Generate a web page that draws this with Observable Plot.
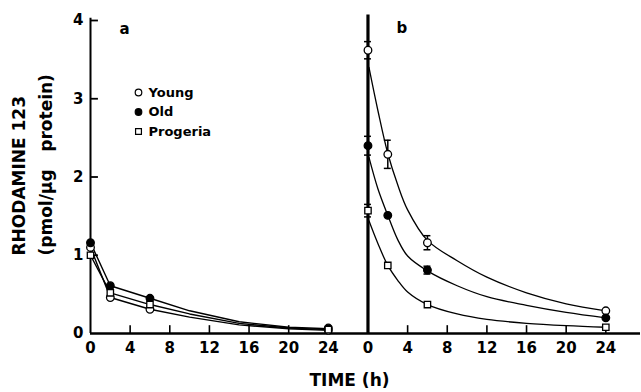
<!DOCTYPE html>
<html><head><meta charset="utf-8">
<script src="https://cdn.jsdelivr.net/npm/d3@7"></script>
<script src="https://cdn.jsdelivr.net/npm/@observablehq/plot@0.6"></script>
<style>body{margin:0;background:#fff}</style>
</head><body><div id="chart"></div>
<script>
// ---- data ----
const series = ["Young", "Old", "Progeria"];
const times = [0, 2, 6, 24];
// panel a: measured points
const aYoung = [1.10, 0.46, 0.31, 0.04];
const aOld = [1.16, 0.61, 0.45, 0.07];
const aProgeria = [1.00, 0.52, 0.37, 0.05];
// panel a: drawn lines
const aLineTimes = [0, 2, 6, 10, 15, 20, 24];
const aYoungLine = [1.10, 0.46, 0.31, 0.21, 0.11, 0.06, 0.04];
const aOldLine = [1.16, 0.61, 0.45, 0.29, 0.15, 0.08, 0.06];
const aProgeriaLine = [1.00, 0.52, 0.37, 0.25, 0.13, 0.07, 0.05];
// panel b: measured points and error bars
const bYoung = [3.62, 2.29, 1.16, 0.29];
const bYoungErr = [0.11, 0.18, 0.09, 0];
const bOld = [2.40, 1.51, 0.81, 0.20];
const bOldErr = [0.12, 0, 0.05, 0];
const bProgeria = [1.57, 0.87, 0.37, 0.08];
const bProgeriaErr = [0.08, 0, 0, 0];
// panel b: fitted curves
const bCurveTimes = [0.1, 1, 2, 3, 4, 6, 9, 12, 16, 20, 24];
const bYoungCurve = [3.40, 2.85, 2.30, 1.90, 1.58, 1.19, 0.93, 0.72, 0.52, 0.38, 0.29];
const bOldCurve = [2.25, 1.85, 1.51, 1.20, 0.99, 0.80, 0.61, 0.47, 0.36, 0.27, 0.20];
const bProgeriaCurve = [1.44, 1.15, 0.87, 0.68, 0.53, 0.37, 0.25, 0.18, 0.13, 0.10, 0.08];
// axes
const yTicks = [0, 1, 2, 3, 4];
const xTickLabels = [0, 4, 8, 12, 16, 20, 24];
const injectionTime = 0;
const panelBOffset = 28; // panel b drawn to the right of panel a on a shared time axis
const xMax = 55.5;

// ---- tables ----
function pointRows(panel, name, ts, vs, es) {
  const off = panel === "b" ? panelBOffset : 0;
  return ts.map((t, i) => ({panel, series: name, x: t + off, v: vs[i], e: es ? es[i] : 0}));
}
const aPts = [
  ...pointRows("a", "Young", times, aYoung),
  ...pointRows("a", "Old", times, aOld),
  ...pointRows("a", "Progeria", times, aProgeria)
];
const bPts = [
  ...pointRows("b", "Young", times, bYoung, bYoungErr),
  ...pointRows("b", "Old", times, bOld, bOldErr),
  ...pointRows("b", "Progeria", times, bProgeria, bProgeriaErr)
];
const allPts = [...aPts, ...bPts];
const errPts = bPts.filter(d => d.e > 0);
const aLines = [
  ...pointRows("a", "Young", aLineTimes, aYoungLine),
  ...pointRows("a", "Old", aLineTimes, aOldLine),
  ...pointRows("a", "Progeria", aLineTimes, aProgeriaLine)
];
const bCurves = [
  ...pointRows("b", "Young", bCurveTimes, bYoungCurve),
  ...pointRows("b", "Old", bCurveTimes, bOldCurve),
  ...pointRows("b", "Progeria", bCurveTimes, bProgeriaCurve)
];
const xTickPos = [...xTickLabels, ...xTickLabels.map(t => t + panelBOffset)];
const xInnerTicks = xTickPos.filter(d => d !== 0 && d !== panelBOffset && d !== 24);
const capHalf = 0.35;

const symStyle = {
  Young: {symbol: "circle", fill: "white", r: 3.8},
  Old: {symbol: "circle", fill: "black", r: 3.8},
  Progeria: {symbol: "square", fill: "white", r: 3.6}
};

const marks = [
  Plot.ruleY([0], {strokeWidth: 2.5}),
  Plot.ruleX([0], {y1: 0, y2: 4.03, strokeWidth: 2}),
  Plot.ruleX([injectionTime + panelBOffset], {y1: 0, y2: 4.07, strokeWidth: 3.2}),
  Plot.ruleY(yTicks.filter(d => d > 0), {x1: 0, x2: 0.8, strokeWidth: 1.8}),
  Plot.ruleX(xInnerTicks, {y1: 0, y2: 0.1, strokeWidth: 1.6}),
  Plot.axisY({ticks: yTicks, tickSize: 0, tickPadding: 7, label: null, tickFormat: d => String(d)}),
  Plot.axisX({ticks: xTickPos, tickSize: 0, tickPadding: 9, label: null,
    tickFormat: d => String(d >= panelBOffset ? d - panelBOffset : d)}),
  Plot.line(aLines, {x: "x", y: "v", z: "series", stroke: "black", strokeWidth: 1.4}),
  Plot.line(bCurves, {x: "x", y: "v", z: "series", stroke: "black", strokeWidth: 1.3, curve: "catmull-rom"}),
  Plot.ruleX(errPts, {x: "x", y1: d => d.v - d.e, y2: d => d.v + d.e, strokeWidth: 1.5}),
  Plot.ruleY(errPts, {y: d => d.v + d.e, x1: d => d.x - capHalf, x2: d => d.x + capHalf, strokeWidth: 1.5}),
  Plot.ruleY(errPts, {y: d => d.v - d.e, x1: d => d.x - capHalf, x2: d => d.x + capHalf, strokeWidth: 1.5}),
  ...series.map(s => Plot.dot(allPts.filter(d => d.series === s), {
    x: "x", y: "v", symbol: symStyle[s].symbol, fill: symStyle[s].fill, r: symStyle[s].r,
    stroke: "black", strokeWidth: 1.3
  })),
  // legend
  ...series.map((s, i) => Plot.dot([s], {frameAnchor: "top-left", dx: 48, dy: 72 + i * 19.5,
    symbol: symStyle[s].symbol, fill: symStyle[s].fill, r: 3.3, stroke: "black", strokeWidth: 1.2})),
  ...series.map((s, i) => Plot.text([s], {frameAnchor: "top-left", dx: 58, dy: 72 + i * 19.5,
    lineAnchor: "middle", text: d => d, textAnchor: "start", fontSize: 13, fontWeight: "bold"})),
  // panel letters
  Plot.text(["a"], {frameAnchor: "top-left", dx: 29, dy: 9, lineAnchor: "middle", text: d => d, fontSize: 15, fontWeight: "bold"}),
  Plot.text(["b"], {frameAnchor: "top-left", dx: 306, dy: 8, lineAnchor: "middle", text: d => d, fontSize: 15, fontWeight: "bold"}),
  // axis titles
  Plot.text(["RHODAMINE 123"], {frameAnchor: "bottom-left", dx: -71, dy: -78, rotate: -90,
    lineAnchor: "middle", textAnchor: "start", text: d => d, fontSize: 17, fontWeight: "bold"}),
  Plot.text(["(pmol/\u00b5g\u00a0\u00a0\u00a0protein)"], {frameAnchor: "bottom-left", dx: -44, dy: -78, rotate: -90,
    lineAnchor: "middle", textAnchor: "start", text: d => d, fontSize: 17, fontWeight: "bold"}),
  Plot.text(["TIME (h)"], {frameAnchor: "bottom", dx: -16, dy: 47, lineAnchor: "middle", text: d => d, fontSize: 17,
    fontWeight: "bold", letterSpacing: "1px"})
];

const chart = Plot.plot({
  width: 641, height: 392,
  marginLeft: 90, marginRight: 1, marginTop: 20, marginBottom: 59,
  style: {fontFamily: "DejaVu Sans", fontWeight: "bold", fontSize: "15px", color: "black", background: "white"},
  x: {domain: [0, xMax]},
  y: {domain: [0, 4]},
  marks
});
document.getElementById("chart").appendChild(chart);
</script>
</body></html>
